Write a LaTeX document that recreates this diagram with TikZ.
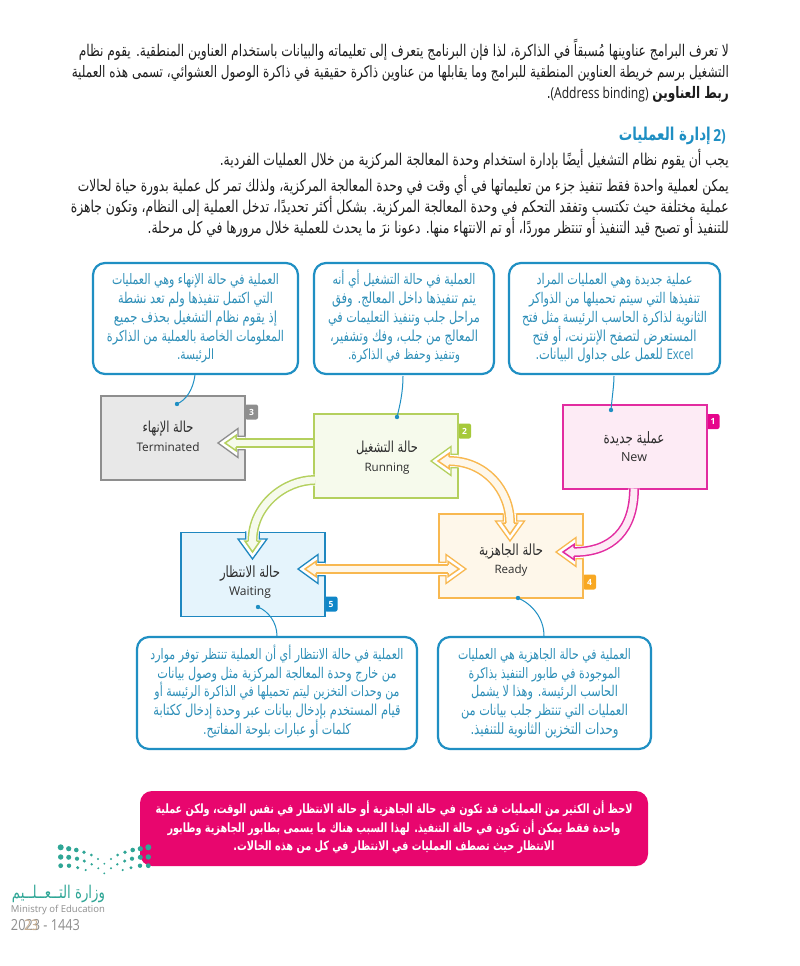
\documentclass[tikz,border=0pt]{standalone}
\usepackage{fontspec}
\usepackage{graphicx}
\setmainfont{Open Sans}
\newfontfamily\ar[Script=Arabic]{DejaVu Sans}
\TeXXeTstate=1
\newcommand\rl[2]{\strut\smash{\scalebox{1}[1.32]{\resizebox{#1pt}{!}{\ar #2}}}}
\newcommand\en[2]{\strut\smash{\resizebox{#1pt}{!}{#2}}}
\newcommand\lat[1]{\scalebox{1}[0.95]{\rmfamily #1}}
\definecolor{cblue}{HTML}{1F8FC3}
\definecolor{ctext}{HTML}{2E8FB8}
\definecolor{body}{HTML}{1E1E1E}
\definecolor{lab}{HTML}{2E2E2E}
\definecolor{tgrey}{HTML}{8E8E8E}
\definecolor{tgreyf}{HTML}{E8E8E8}
\definecolor{rgreen}{HTML}{B4D05E}
\definecolor{rgreenf}{HTML}{F6FAEC}
\definecolor{rgreenb}{HTML}{A6C93A}
\definecolor{npink}{HTML}{E22CA0}
\definecolor{npinkf}{HTML}{FDEBF5}
\definecolor{npinkb}{HTML}{E6058C}
\definecolor{rorange}{HTML}{F8B850}
\definecolor{rorangef}{HTML}{FEF7EA}
\definecolor{rorangeb}{HTML}{F8A823}
\definecolor{wblue}{HTML}{1E87C0}
\definecolor{wbluef}{HTML}{E5F4FC}
\definecolor{wblueb}{HTML}{0F86C8}
\definecolor{note}{HTML}{E8066E}
\definecolor{teal}{HTML}{2FA696}
\definecolor{tan}{HTML}{C8AE90}
\newcommand\headO[4]{%
 \begin{scope}[shift={(#2)},rotate=#3]
 \path[fill=white] (0,0)--(-20,14.5)--(-20,6.8)--(-27.7,6.8)--(-27.7,-6.8)--(-20,-6.8)--(-20,-14.5)--cycle;
 \draw[color=#4,line width=1.3pt,miter limit=10] (-27.6,6.8)--(-20,6.8)--(-20,14.5)--(0,0)--(-20,-14.5)--(-20,-6.8)--(-27.6,-6.8);
 \coordinate (#1) at (-18,0);
 \end{scope}}
\newcommand\headI[4]{%
 \begin{scope}[shift={(#1)},rotate=#2]
 \path[fill=#4] (-7,0)--(-18,7.6)--(-18,-7.6)--cycle;
 \draw[color=#3,line width=1.5pt,miter limit=10] (-18,4.2)--(-18,7.6)--(-7,0)--(-18,-7.6)--(-18,-4.2);
 \end{scope}}
\newcommand\shaft[3]{%
 \draw[white,line width=11pt] #1;
 \draw[#2,line width=9.9pt] #1;
 \draw[#3,line width=6.9pt] #1;}
\tikzset{
 statebox/.style={draw=#1,line width=1.1pt,inner sep=0pt,minimum width=144pt,minimum height=84pt,rectangle},
 statelab/.style={inner sep=0pt,align=center,text=lab,font=\fontsize{12}{18.5}\selectfont},
 callout/.style={draw=cblue,fill=white,line width=2.2pt,rounded corners=12pt,inner sep=0pt,align=center,text=ctext,font=\fontsize{12}{18.75}\selectfont},
 badge/.style={fill=#1,rounded corners=2pt,inner sep=0pt,minimum width=13pt,minimum height=15pt,text=white,font=\bfseries\fontsize{8.5}{10}\selectfont},
 para/.style={inner sep=0pt,anchor=east,align=right,text=body,font=\fontsize{12}{21}\selectfont},
 conn/.style={cblue,line width=1pt},
 cdot/.style={circle,fill=cblue,inner sep=0pt,minimum size=4.4pt},
 logodot/.style={teal},
}
\begin{document}
\begin{tikzpicture}[x=1pt,y=-1pt]
\useasboundingbox (0,0) rectangle (800,966);
\fill[white] (0,0) rectangle (800,966);

% body text
\node[para] (p1) at (729,73) {\rl{650}{\beginR لا تعرف البرامج عناوينها مُسبقاً في الذاكرة، لذا فإن البرنامج يتعرف إلى تعليماته والبيانات باستخدام العناوين المنطقية. يقوم نظام\endR}\\
\rl{657}{\beginR التشغيل برسم خريطة العناوين المنطقية للبرامج وما يقابلها من عناوين ذاكرة حقيقية في ذاكرة الوصول العشوائي، تسمى هذه العملية\endR}\\
\rl{182}{\beginR {\bfseries ربط العناوين} \beginL\lat{(Address binding)}\endL.\endR}};
\node[para,text=cblue,font=\bfseries\fontsize{12}{21}\selectfont] (h2) at (711,136) {\rl{92}{\beginR إدارة العمليات\endR}};
\node[para,text=cblue,font=\bfseries\fontsize{13}{21}\selectfont] (h2n) at (726,136) {\scalebox{1}[1.2]{\en{12.5}{2)}}};
\node[para] (p2) at (729,161) {\rl{509}{\beginR يجب أن يقوم نظام التشغيل أيضًا بإدارة استخدام وحدة المعالجة المركزية من خلال العمليات الفردية.\endR}};
\node[para] (p3) at (729,208) {\rl{651}{\beginR يمكن لعملية واحدة فقط تنفيذ جزء من تعليماتها في أي وقت في وحدة المعالجة المركزية، ولذلك تمر كل عملية بدورة حياة لحالات\endR}\\
\rl{658}{\beginR عملية مختلفة حيث تكتسب وتفقد التحكم في وحدة المعالجة المركزية. بشكل أكثر تحديدًا، تدخل العملية إلى النظام، وتكون جاهزة\endR}\\
\rl{581}{\beginR للتنفيذ أو تصبح قيد التنفيذ أو تنتظر موردًا، أو تم الانتهاء منها. دعونا نرَ ما يحدث للعملية خلال مرورها في كل مرحلة.\endR}};

% badges
\node[badge=tgrey] (b3) at (251.5,412) {3};
\node[badge=rgreenb] (b2) at (464.5,431) {2};
\node[badge=npinkb] (b1) at (713,421.5) {1};
\node[badge=rorangeb] (b4) at (589.5,582) {4};
\node[badge=wblueb] (b5) at (331,604) {5};

% state boxes
\node[statebox=tgrey,fill=tgreyf] (term) at (173,438) {};
\node[statebox=rgreen,fill=rgreenf] (run) at (386,456) {};
\node[statebox=npink,fill=npinkf] (new) at (635,447) {};
\node[statebox=rorange,fill=rorangef] (ready) at (511,556) {};
\node[statebox=wblue,fill=wbluef] (wait) at (253,574.5) {};

% arrow tips
\coordinate (tT) at (218,443);
\coordinate (tW) at (252.5,559);
\coordinate (tR) at (431,461);
\coordinate (tRd) at (510,541);
\coordinate (tWl) at (298,569);
\coordinate (tRr) at (466,569);
\coordinate (tN) at (556,552);
\coordinate (g0) at (315,480);
\coordinate (n0) at (634,488.5);

\headO{bT}{tT}{180}{tgrey}
\headO{bW}{tW}{-90}{wblue}
\headO{bR}{tR}{180}{rgreen}
\headO{bRd}{tRd}{-90}{rorange}
\headO{bWl}{tWl}{180}{wblue}
\headO{bRr}{tRr}{0}{rorange}
\headO{bN}{tN}{180}{rorange}

\shaft{(run.west |- bT) -- (bT)}{rgreen}{rgreenf}
\shaft{(g0) .. controls (285,480) and (252.5,505) .. (bW)}{rgreen}{rgreenf}
\shaft{(bR) .. controls (485,461) and (510,490) .. (bRd)}{rorange}{rorangef}
\shaft{(bWl) -- (bRr)}{rorange}{rorangef}
\shaft{(n0) .. controls (634,530) and (612,552) .. (bN)}{npink}{npinkf}

\headI{tT}{180}{rgreen}{rgreenf}
\headI{tW}{-90}{rgreen}{rgreenf}
\headI{tR}{180}{rorange}{rorangef}
\headI{tRd}{-90}{rorange}{rorangef}
\headI{tWl}{180}{rorange}{rorangef}
\headI{tRr}{0}{rorange}{rorangef}
\headI{tN}{180}{npink}{npinkf}

% state labels
\node[statelab] (lT) at (168,438.5) {\rl{51}{\beginR حالة الإنهاء\endR}\\\en{63}{Terminated}};
\node[statelab] (lR) at (387,458.5) {\rl{62}{\beginR حالة التشغيل\endR}\\\en{45}{Running}};
\node[statelab] (lN) at (634,449) {\rl{61}{\beginR عملية جديدة\endR}\\\en{26}{New}};
\node[statelab] (lRd) at (511,561) {\rl{64}{\beginR حالة الجاهزية\endR}\\\en{33}{Ready}};
\node[statelab] (lW) at (250,583) {\rl{60}{\beginR حالة الانتظار\endR}\\\en{42}{Waiting}};

% callouts
\node[callout,minimum width=205pt,minimum height=111pt] (cT) at (195.5,318.5) {%
\rl{167}{\beginR العملية في حالة الإنهاء وهي العمليات\endR}\\
\rl{155}{\beginR التي اكتمل تنفيذها ولم تعد نشطة\endR}\\
\rl{163}{\beginR إذ يقوم نظام التشغيل بحذف جميع\endR}\\
\rl{177}{\beginR المعلومات الخاصة بالعملية من الذاكرة\endR}\\
\rl{37}{\beginR الرئيسة.\endR}};
\node[callout,minimum width=180pt,minimum height=111pt] (cR) at (404,318.5) {%
\rl{143}{\beginR العملية في حالة التشغيل أي أنه\endR}\\
\rl{144}{\beginR يتم تنفيذها داخل المعالج. وفق\endR}\\
\rl{152}{\beginR مراحل جلب وتنفيذ التعليمات في\endR}\\
\rl{148}{\beginR المعالج من جلب، وفك وتشفير،\endR}\\
\rl{112}{\beginR وتنفيذ وحفظ في الذاكرة.\endR}};
\node[callout,minimum width=211pt,minimum height=111pt] (cN) at (614.5,318.5) {%
\rl{156}{\beginR عملية جديدة وهي العمليات المراد\endR}\\
\rl{171}{\beginR تنفيذها التي سيتم تحميلها من الذواكر\endR}\\
\rl{185}{\beginR الثانوية لذاكرة الحاسب الرئيسة مثل فتح\endR}\\
\rl{164}{\beginR المستعرض لتصفح الإنترنت، أو فتح\endR}\\
\rl{158}{\beginR\beginL\lat{Excel}\endL{} للعمل على جداول البيانات.\endR}};
\node[callout,minimum width=280pt,minimum height=112pt] (cW) at (277,693) {%
\rl{253}{\beginR العملية في حالة الانتظار أي أن العملية تنتظر توفر موارد\endR}\\
\rl{239}{\beginR من خارج وحدة المعالجة المركزية مثل وصول بيانات\endR}\\
\rl{245}{\beginR من وحدات التخزين ليتم تحميلها في الذاكرة الرئيسة أو\endR}\\
\rl{247}{\beginR قيام المستخدم بإدخال بيانات عبر وحدة إدخال ككتابة\endR}\\
\rl{148}{\beginR كلمات أو عبارات بلوحة المفاتيح.\endR}};
\node[callout,minimum width=213pt,minimum height=112pt] (cRd) at (544.5,693) {%
\rl{173}{\beginR العملية في حالة الجاهزية هي العمليات\endR}\\
\rl{152}{\beginR الموجودة في طابور التنفيذ بذاكرة\endR}\\
\rl{147}{\beginR الحاسب الرئيسة. وهذا لا يشمل\endR}\\
\rl{167}{\beginR العمليات التي تنتظر جلب بيانات من\endR}\\
\rl{148}{\beginR وحدات التخزين الثانوية للتنفيذ.\endR}};

% connectors
\node[cdot] (dT) at (177,404) {};
\node[cdot] (dR) at (397,417) {};
\node[cdot] (dN) at (611,410) {};
\node[cdot] (dW) at (258,607) {};
\node[cdot] (dRd) at (518,598) {};
\coordinate (sT) at (195,375);
\coordinate (sR) at (403,376);
\coordinate (sN) at (614,376);
\coordinate (sW) at (277,636);
\coordinate (sRd) at (544,636);
\draw[conn] (sT) .. controls (193,390) and (186,400) .. (dT.center);
\draw[conn] (sR) .. controls (403,392) and (400,405) .. (dR.center);
\draw[conn] (sN) .. controls (614,385) and (612,398) .. (dN.center);
\draw[conn] (sW) .. controls (277,622) and (268,611) .. (dW.center);
\draw[conn] (sRd) .. controls (544,618) and (532,604) .. (dRd.center);

% note
\node[fill=note,rounded corners=12pt,minimum width=508pt,minimum height=75pt,inner sep=0pt,align=center,text=white,font=\bfseries\fontsize{12}{18.7}\selectfont] (note) at (394,828.5) {%
\rl{477}{\beginR لاحظ أن الكثير من العمليات قد تكون في حالة الجاهزية أو حالة الانتظار في نفس الوقت، ولكن عملية\endR}\\
\rl{453}{\beginR واحدة فقط يمكن أن تكون في حالة التنفيذ. لهذا السبب هناك ما يسمى بطابور الجاهزية وطابور\endR}\\
\rl{321}{\beginR الانتظار حيث تصطف العمليات في الانتظار في كل من هذه الحالات.\endR}};

% logo
\foreach \x/\y/\r in {60.7/847.3/3,68.7/848.7/2.6,76.3/850/2.3,84/852.3/1.9,91.3/855/1.5,98/859/1.2,104.3/863.7/1,
 148.3/847.3/3,140.3/848.7/2.6,132.7/850/2.3,125/852.3/1.9,117.7/855/1.5,111/859/1.2,
 60.7/857/2.7,68.7/857.3/2.5,77/858.7/2.1,84.3/861/1.7,91.7/864.3/1.3,98.3/868.3/1.1,104.3/873.3/1,
 148.3/857/2.7,140.3/857.3/2.5,132/858.7/2.1,124.7/861/1.7,117.3/864.3/1.3,111/868.3/1.1,
 60.7/865.7/2.4,69/865.7/2.2,77.7/867.7/1.7,85.7/870/1.2,
 148.3/865.7/2.4,140/865.7/2.2,131/867.7/1.7,122.7/870/1.2}
 {\fill[logodot] (\x,\y) circle (\r);}
\node[inner sep=0pt,text=teal,font=\fontsize{12}{14}\selectfont] (lg1) at (58.5,896) {\rl{93}{\beginR وزارة التــعــلــيم\endR}};
\node[inner sep=0pt,text=tgrey,font=\fontsize{9}{11}\selectfont] (lg2) at (58,910) {\en{94}{Ministry of Education}};
\node[inner sep=0pt,text=tgrey,font=\fontsize{12}{14}\selectfont] (lg3) at (45.5,927) {\scalebox{1}[1.2]{\en{69}{2023 - 1443}}};
\node[inner sep=0pt,text=tan,font=\fontsize{12}{14}\selectfont] (lg4) at (31,927) {\scalebox{1}[1.2]{\en{14}{23}}};
\end{tikzpicture}
\end{document}
